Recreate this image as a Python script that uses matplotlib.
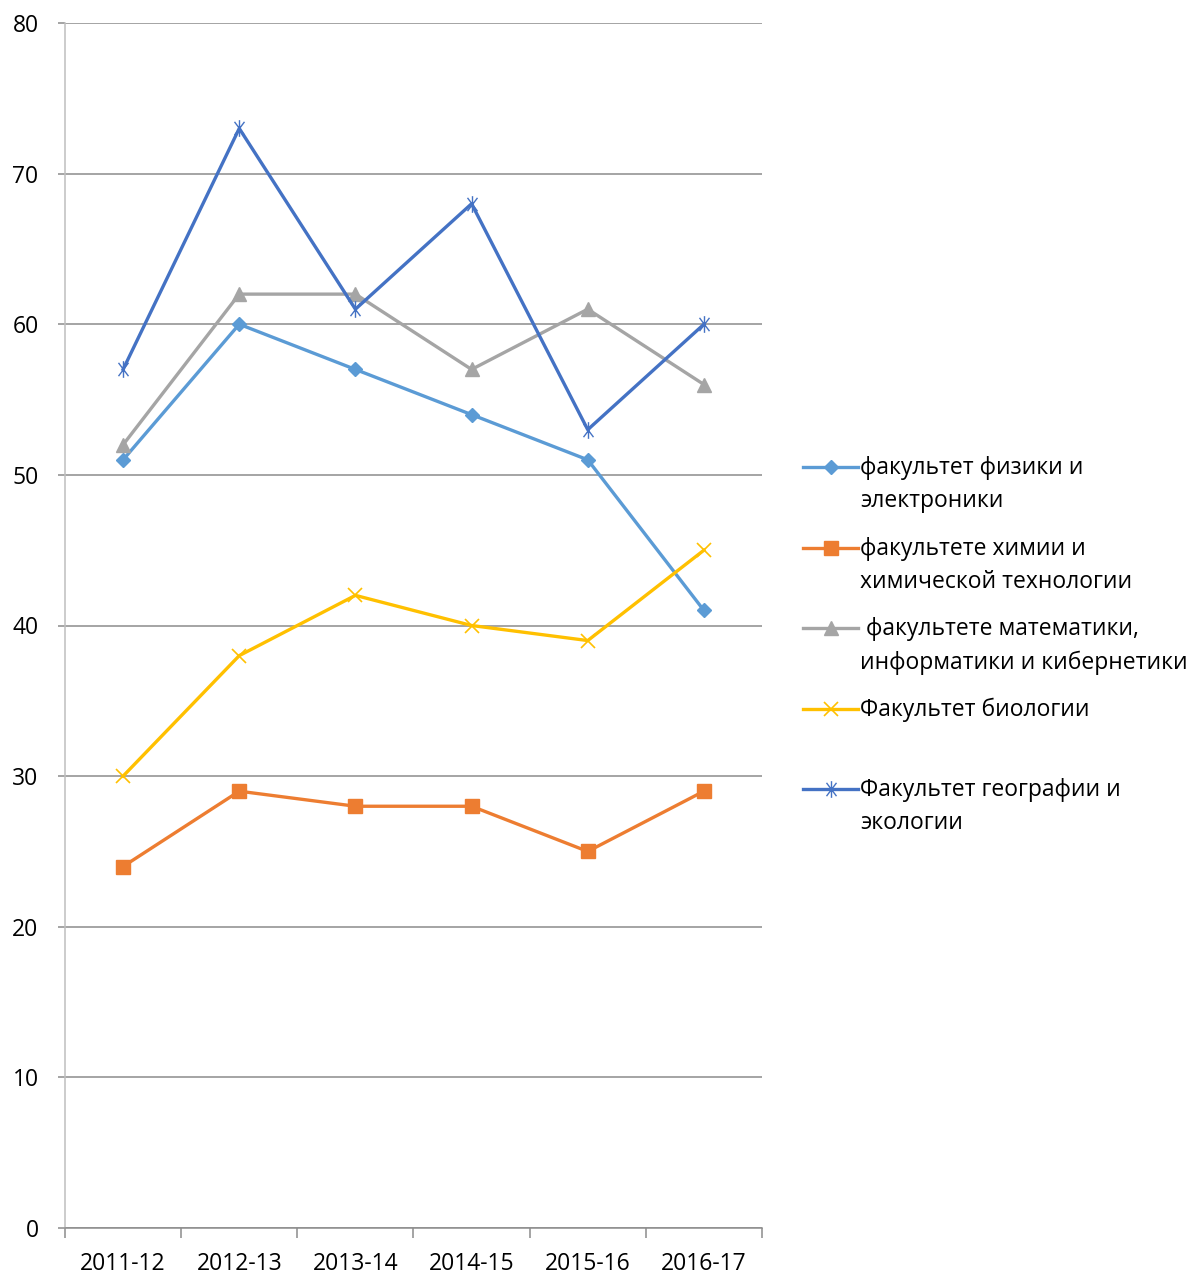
import matplotlib
matplotlib.use('Agg')
import matplotlib.pyplot as plt
from matplotlib.lines import Line2D
from matplotlib.path import Path

plt.rcParams['font.family'] = ['Open Sans', 'DejaVu Sans']

years = ['2011-12', '2012-13', '2013-14', '2014-15', '2015-16', '2016-17']
phys = [51, 60, 57, 54, 51, 41]
chem = [24, 29, 28, 28, 25, 29]
math_ = [52, 62, 62, 57, 61, 56]
bio = [30, 38, 42, 40, 39, 45]
geo = [57, 73, 61, 68, 53, 60]
labels = ['факультет физики и\nэлектроники',
          'факультете химии и\nхимической технологии',
          ' факультете математики,\nинформатики и кибернетики',
          'Факультет биологии',
          'Факультет географии и\nэкологии']
colors = ['#5B9BD5', '#ED7D31', '#A5A5A5', '#FFC000', '#4472C4']

# звёздочка как в Excel: X + вертикальная черта
star = Path([(0, -1), (0, 1), (-0.6, -0.8), (0.6, 0.8), (-0.6, 0.8), (0.6, -0.8)],
            [Path.MOVETO, Path.LINETO, Path.MOVETO, Path.LINETO, Path.MOVETO, Path.LINETO])

styles = [dict(marker='D', ms=7),
          dict(marker='s', ms=10),
          dict(marker='^', ms=10),
          dict(marker='x', ms=10, mew=1.2),
          dict(marker=star, ms=12, mew=1.0)]

W, H = 1192, 1275
fig = plt.figure(figsize=(W / 100, H / 100), dpi=100)
ax = fig.add_axes([65 / W, 1 - 1228 / H, (762 - 65) / W, (1228 - 23) / H])

x = list(range(len(years)))
for ys, c, st in zip([phys, chem, math_, bio, geo], colors, styles):
    ax.plot(x, ys, color=c, lw=2.4, mfc=c, mec=c, zorder=3, **st)

ax.set_xlim(-0.5, 5.5)
ax.set_ylim(0, 80)
ax.set_yticks(range(0, 81, 10))
ax.yaxis.grid(True, color='#8C8C8C', lw=1.1)
ax.set_axisbelow(True)

ax.set_xticks(x)
ax.set_xticklabels(years)
ax.set_xticks([i - 0.5 for i in range(len(years) + 1)], minor=True)
ax.tick_params(axis='x', which='major', length=0, pad=17, labelsize=16.5)
ax.tick_params(axis='x', which='minor', length=7, color='#8C8C8C', width=1.1)
ax.tick_params(axis='y', length=5, color='#8C8C8C', width=1.1, pad=14, labelsize=16.5)

for s in ['top', 'right']:
    ax.spines[s].set_visible(False)
ax.spines['left'].set_color('#BFBFBF')
ax.spines['left'].set_linewidth(1.1)
ax.spines['bottom'].set_color('#8C8C8C')
ax.spines['bottom'].set_linewidth(1.1)

# легенда справа (маркер на уровне первой строки)
rows = [467, 548, 628, 709, 789]
for lab, c, st, yp in zip(labels, colors, styles, rows):
    yf = 1 - yp / H
    fig.add_artist(Line2D([803 / W, 858 / W], [yf, yf], transform=fig.transFigure,
                          color=c, lw=2.4, markevery=[], **st))
    fig.add_artist(Line2D([830.5 / W], [yf], transform=fig.transFigure,
                          color=c, lw=0, mfc=c, mec=c, **st))
    fig.text(860 / W, yf + 11 / H, lab, fontsize=16.5, va='top', ha='left',
             linespacing=1.52)

fig.savefig('out.png', dpi=100)
